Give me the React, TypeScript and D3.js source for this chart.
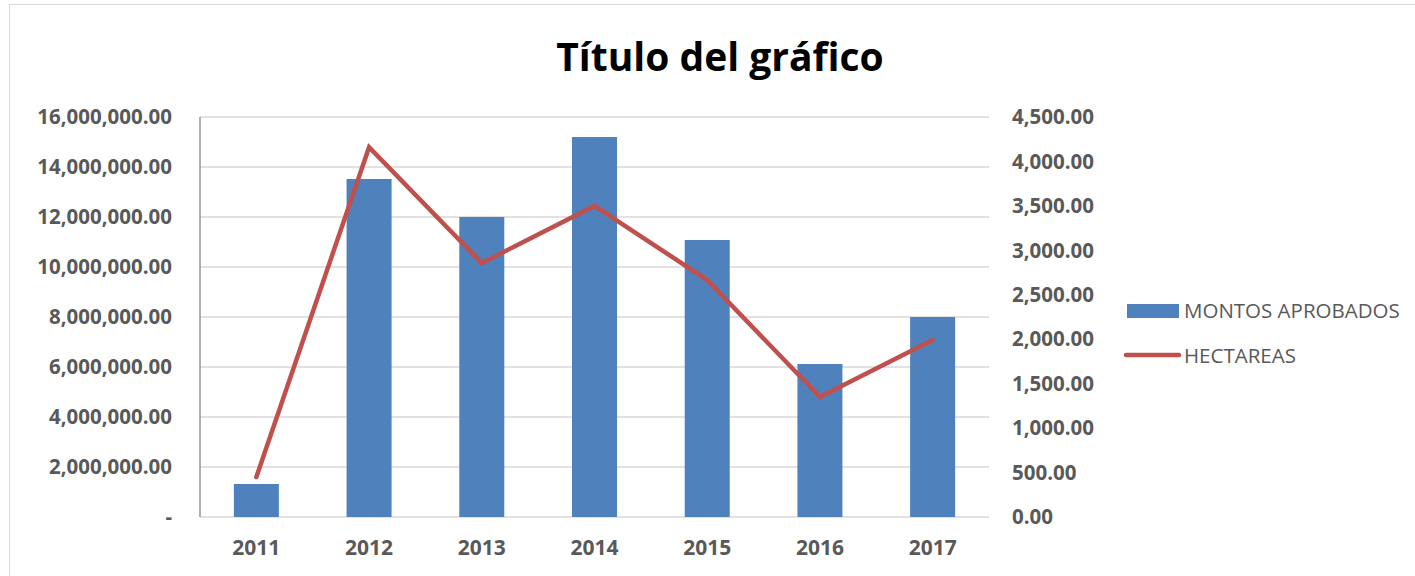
import React, { useEffect, useRef } from "react";
import * as d3 from "d3";

const categories = ["2011", "2012", "2013", "2014", "2015", "2016", "2017"];
const montos = [1320000, 13520000, 12000000, 15200000, 11080000, 6120000, 8000000];
const hectareas = [450, 4160, 2857, 3500, 2666, 1350, 1990];
const leftTicks = [0, 2000000, 4000000, 6000000, 8000000, 10000000, 12000000, 14000000, 16000000];
const rightTicks = [0, 500, 1000, 1500, 2000, 2500, 3000, 3500, 4000, 4500];
const title = "Título del gráfico";
const seriesNames = ["MONTOS APROBADOS", "HECTAREAS"];

const W = 1415, H = 576;
const FONT = "'Open Sans', 'Liberation Sans', sans-serif";

export default function App() {
  const ref = useRef<SVGSVGElement>(null);
  useEffect(() => {
    document.body.style.margin = "0";
    const svg = d3.select(ref.current);
    svg.selectAll("*").remove();
    const left = 200, right = 989, top = 117, bottom = 517;
    const xc = d3.scaleBand().domain(categories).range([left, right]);
    const yL = d3.scaleLinear().domain([0, 16000000]).range([bottom, top]);
    const yR = d3.scaleLinear().domain([0, 4500]).range([bottom, top]);

    svg.append("rect").attr("x", 0).attr("y", 0).attr("width", W).attr("height", H).attr("fill", "#fff");
    svg.append("rect").attr("x", 9.5).attr("y", 4.5).attr("width", W).attr("height", H).attr("fill", "none").attr("stroke", "#d9d9d9");

    svg.append("text").attr("x", 720).attr("y", 71).attr("text-anchor", "middle")
      .attr("font-family", FONT).attr("font-weight", "bold").attr("font-size", 39).attr("fill", "#000").text(title);

    // gridlines
    svg.append("g").selectAll("line").data(leftTicks).join("line")
      .attr("x1", left).attr("x2", right).attr("y1", d => yL(d)).attr("y2", d => yL(d))
      .attr("stroke", "#d9d9d9").attr("stroke-width", 1.3);

    // left axis line
    svg.append("line").attr("x1", left).attr("x2", left).attr("y1", top).attr("y2", bottom)
      .attr("stroke", "#868686").attr("stroke-width", 1.3);

    const fmt = d3.format(",.2f");
    svg.append("g").selectAll("text").data(leftTicks).join("text")
      .attr("x", 172).attr("y", d => yL(d)).attr("dy", "0.35em").attr("text-anchor", "end")
      .attr("font-family", FONT).attr("font-weight", "bold").attr("font-size", 20.5).attr("fill", "#595959")
      .text(d => (d === 0 ? "-" : fmt(d)));
    svg.append("g").selectAll("text").data(rightTicks).join("text")
      .attr("x", 1012).attr("y", d => yR(d)).attr("dy", "0.35em").attr("text-anchor", "start")
      .attr("font-family", FONT).attr("font-weight", "bold").attr("font-size", 20.5).attr("fill", "#595959")
      .text(d => fmt(d));
    svg.append("g").selectAll("text").data(categories).join("text")
      .attr("x", d => (xc(d) as number) + xc.bandwidth() / 2).attr("y", 548).attr("dy", "0.35em").attr("text-anchor", "middle")
      .attr("font-family", FONT).attr("font-weight", "bold").attr("font-size", 21).attr("fill", "#595959")
      .text(d => d);

    // bars
    svg.append("g").selectAll("rect").data(montos).join("rect")
      .attr("x", (d, i) => (xc(categories[i]) as number) + xc.bandwidth() / 2 - 22.5)
      .attr("width", 45)
      .attr("y", d => yL(d)).attr("height", d => bottom - yL(d))
      .attr("fill", "#4f81bd");

    // line
    const line = d3.line<number>()
      .x((d, i) => (xc(categories[i]) as number) + xc.bandwidth() / 2)
      .y(d => yR(d));
    svg.append("path").datum(hectareas).attr("d", line).attr("fill", "none")
      .attr("stroke", "#c0504d").attr("stroke-width", 4.5).attr("stroke-linecap", "round").attr("stroke-linejoin", "miter");

    // legend
    svg.append("rect").attr("x", 1127).attr("y", 304).attr("width", 52).attr("height", 14).attr("fill", "#4f81bd");
    svg.append("line").attr("x1", 1126).attr("x2", 1179).attr("y1", 355).attr("y2", 355)
      .attr("stroke", "#c0504d").attr("stroke-width", 4.5).attr("stroke-linecap", "round");
    svg.append("g").selectAll("text").data(seriesNames).join("text")
      .attr("x", 1184).attr("y", (d, i) => 311 + i * 45).attr("dy", "0.35em")
      .attr("font-family", FONT).attr("font-size", 20.5).attr("fill", "#595959").text(d => d);
  }, []);
  return <svg ref={ref} width={W} height={H} style={{ display: "block" }} />;
}
